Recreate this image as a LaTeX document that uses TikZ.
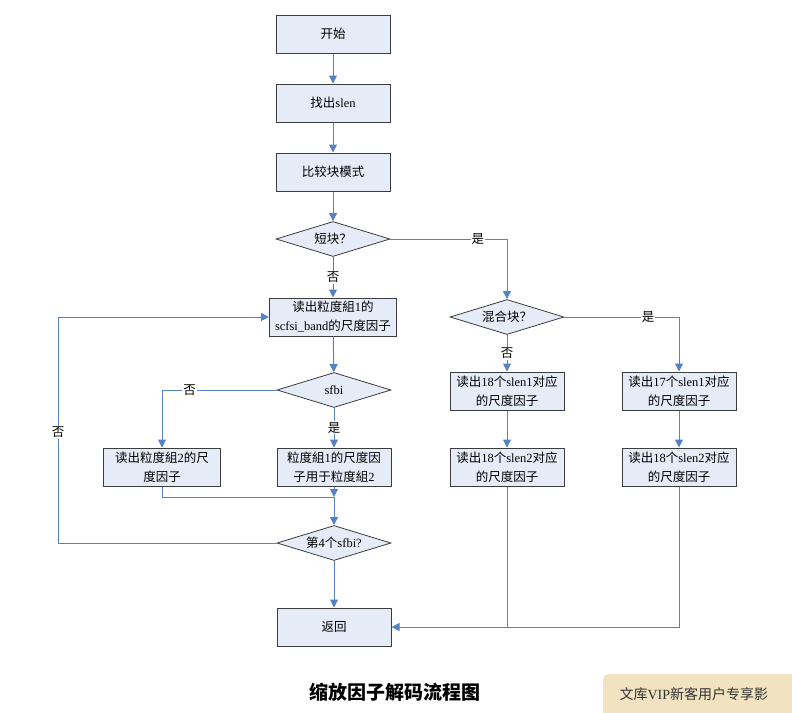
\documentclass[tikz,border=0pt]{standalone}
\usepackage{fontspec}
\setmainfont{Liberation Serif}
\newfontfamily\cjk{Noto Sans CJK SC}
\usetikzlibrary{shapes.geometric,arrows.meta}
\definecolor{boxfill}{RGB}{230,236,247}
\definecolor{boxline}{RGB}{60,60,60}
\definecolor{flow}{RGB}{84,130,200}
\definecolor{tanbg}{RGB}{241,227,192}
\newcommand\lt[1]{{\rmfamily #1}}
\begin{document}
\begin{tikzpicture}[x=1pt,y=-1pt,
 procbox/.style={draw=boxline,line width=1pt,fill=boxfill,minimum width=114pt,minimum height=38pt,inner sep=0pt,align=center,font=\cjk\fontsize{12.5}{19}\selectfont},
 decbox/.style={diamond,draw=boxline,line width=0.8pt,fill=boxfill,shape aspect=3.2,minimum width=114pt,minimum height=35pt,inner sep=0pt,font=\cjk\fontsize{12.5}{14}\selectfont},
 flowline/.style={draw=flow,line width=1pt},
 arr/.style={flowline,-{Triangle[length=8pt,width=8pt]}},
 lbl/.style={fill=white,inner sep=1pt,font=\cjk\fontsize{12.5}{14}\selectfont}]
\useasboundingbox (0,0) rectangle (792,712);

% nodes
\node[procbox] (start) at (333,34) {开始};
\node[procbox] (slen) at (333,103) {找出\lt{slen}};
\node[procbox] (cmp) at (333,172) {比较块模式};
\node[decbox] (short) at (333,239) {短块？};
\node[procbox,minimum width=127pt] (rd1) at (333,317) {读出粒度組\lt{1}的\\\lt{scfsi\_band}的尺度因子};
\node[decbox] (sfbi) at (334,390) {\lt{sfbi}};
\node[procbox] (use1) at (334,467) {粒度組\lt{1}的尺度因\\子用于粒度組\lt{2}};
\node[procbox,minimum width=117pt] (rd2) at (162,467) {读出粒度組\lt{2}的尺\\度因子};
\node[decbox] (fourth) at (334,543) {第\lt{4}个\lt{sfbi?}};
\node[procbox] (ret) at (334,627) {返回};
\node[decbox] (mixed) at (507,317) {混合块？};
\node[procbox] (m1) at (507,391) {读出\lt{18}个\lt{slen1}对应\\的尺度因子};
\node[procbox] (m2) at (507,467) {读出\lt{18}个\lt{slen2}对应\\的尺度因子};
\node[procbox] (l1) at (679,391) {读出\lt{17}个\lt{slen1}对应\\的尺度因子};
\node[procbox] (l2) at (679,467) {读出\lt{18}个\lt{slen2}对应\\的尺度因子};

\coordinate (merge) at (334,497);

% connectors
\draw[arr] (start) -- (slen);
\draw[arr] (slen) -- (cmp);
\draw[arr] (cmp) -- (short);
\draw[arr] (short) -- node[lbl]{否} (rd1);
\draw[arr] (short.east) -| node[lbl,pos=0.375]{是} (mixed.north);
\draw[arr] (rd1) -- (sfbi);
\draw[arr] (sfbi) -- node[lbl]{是} (use1);
\draw[arr] (sfbi.west) -| node[lbl,pos=0.38]{否} (rd2.north);
\draw[arr] (use1) -- (merge);
\draw[flowline] (rd2.south) |- (merge);
\draw[arr] (merge) -- (fourth.north);
\draw[arr] (fourth.west) -- (58,543) -- node[lbl,pos=0.49]{否} (58,317) -- (rd1.west);
\draw[arr] (fourth) -- (ret);
\draw[arr] (mixed) -- node[lbl]{否} (m1);
\draw[arr] (mixed.east) -| node[lbl,pos=0.365]{是} (l1.north);
\draw[arr] (m1) -- (m2);
\draw[arr] (l1) -- (l2);
\draw[flowline] (m2.south) -- (m2.south |- ret.east);
\draw[arr] (l2.south) |- (ret.east);

% caption
\node[font=\cjk\bfseries\fontsize{19}{22}\selectfont] (title) at (395,692) {缩放因子解码流程图};

% overlay banner
\fill[tanbg,rounded corners=6pt] (603,674) rectangle (810,730);
\node[anchor=west,font=\cjk\fontsize{14}{16}\selectfont,text=black!80] (banner) at (616,694) {文库\lt{VIP}新客用户专享影};
\end{tikzpicture}
\end{document}
